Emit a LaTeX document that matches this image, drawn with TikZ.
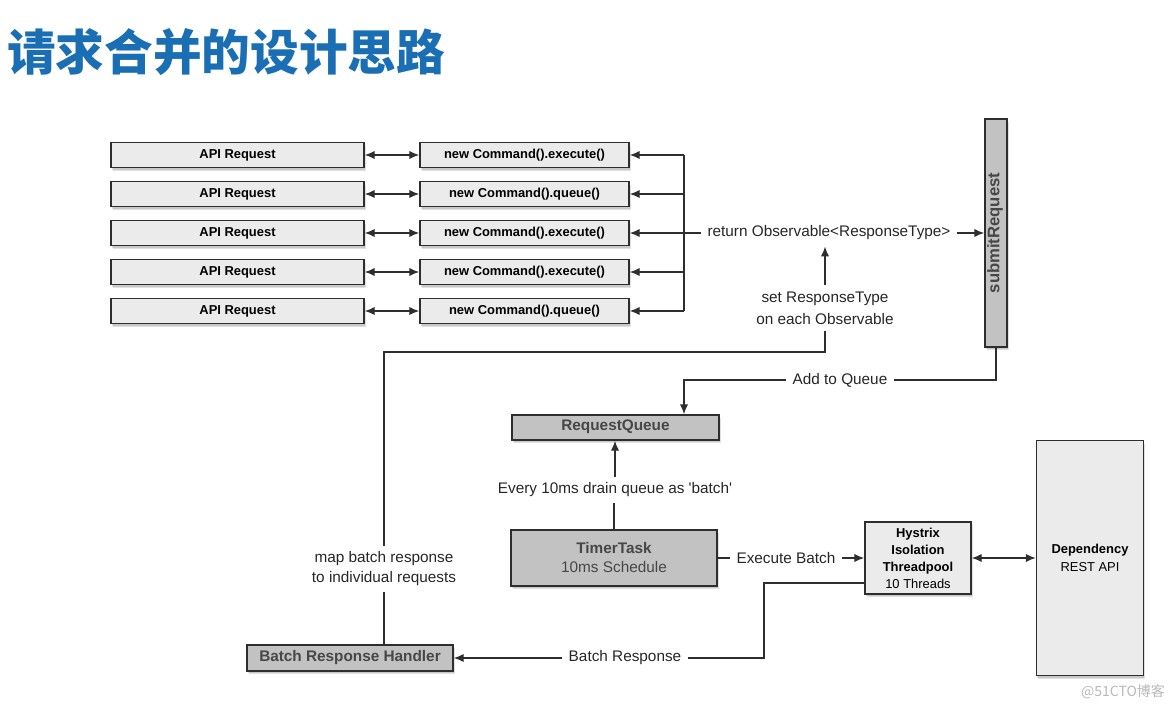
\documentclass[tikz,border=0pt]{standalone}
\usepackage{fontspec}
\setmainfont{Liberation Sans}
\newfontfamily\cjk{Noto Sans CJK SC}
\usetikzlibrary{arrows.meta,shadows,calc}
\definecolor{titleblue}{HTML}{1A6EB4}
\definecolor{boxlight}{HTML}{EBEBEB}
\definecolor{boxdark}{HTML}{C2C2C2}
\definecolor{boxtext}{HTML}{474747}
\definecolor{linecol}{HTML}{2E2E2E}
\begin{document}
\begin{tikzpicture}[x=0.75pt,y=-0.75pt,
  box/.style={draw=linecol, line width=1.05pt, fill=#1, inner sep=0pt, align=center,
    general shadow={shadow xshift=1.2pt, shadow yshift=-2.6pt, fill=black, opacity=0.12},
    drop shadow={shadow xshift=0.6pt, shadow yshift=-1.6pt, opacity=0.25}},
  box/.default=boxlight,
  oneline/.style={text height=0.7em, text depth=0.18em},
  apibox/.style={box, oneline, minimum width=189.75pt, minimum height=18.75pt,
    font=\fontsize{9.7}{11}\selectfont\bfseries},
  cmdbox/.style={box, oneline, minimum width=156.75pt, minimum height=18.75pt,
    font=\fontsize{9.7}{11}\selectfont\bfseries},
  lbl/.style={inner sep=4.5pt, text=black!85, font=\fontsize{11.5}{14}\selectfont},
  conn/.style={draw=linecol, line width=1pt},
  arr/.style={conn, -{Latex[length=7.5pt,width=6.2pt]}},
  dbl/.style={conn, {Latex[length=7.5pt,width=6.2pt]}-{Latex[length=7.5pt,width=6.2pt]}},
]
\useasboundingbox (0,0) rectangle (1175,706);

% title
\node[anchor=west, text=titleblue, inner sep=0pt,
  font=\cjk\bfseries\fontsize{36.5}{40}\selectfont] (title) at (7,52) {请求合并的设计思路};

% request rows
\node[apibox] (a1) at (237.5,155) {API Request};
\node[apibox] (a2) at (237.5,194) {API Request};
\node[apibox] (a3) at (237.5,233) {API Request};
\node[apibox] (a4) at (237.5,272) {API Request};
\node[apibox] (a5) at (237.5,311) {API Request};
\node[cmdbox] (c1) at (524.5,155) {new Command().execute()};
\node[cmdbox] (c2) at (524.5,194) {new Command().queue()};
\node[cmdbox] (c3) at (524.5,233) {new Command().execute()};
\node[cmdbox] (c4) at (524.5,272) {new Command().execute()};
\node[cmdbox] (c5) at (524.5,311) {new Command().queue()};
\foreach \i in {1,...,5}{\draw[dbl] (a\i) -- (c\i);}

% bus
\coordinate (bus) at (684,233);
\draw[conn] (c1.east -| bus) -- (c5.east -| bus);
\foreach \i in {1,...,5}{\draw[arr] (c\i.east -| bus) -- (c\i.east);}

% submitRequest
\node[box=boxdark, oneline, rotate=90, minimum width=171pt, minimum height=16.5pt,
  text=boxtext, font=\fontsize{12.5}{14}\selectfont\bfseries] (submit) at (996,233) {submitRequest};

\node[lbl] (ret) at (829,233) {return Observable<ResponseType>};
\draw[conn] (bus) -- (ret.west);
\draw[arr] (ret.east) -- (submit.north); % left side of the rotated box

\node[lbl, align=center, font=\fontsize{11.5}{16.5}\selectfont] (set) at (825,308) {set ResponseType\\on each Observable};
\draw[arr] (set.north) -- (set.north |- ret.south);

% map batch response path
\node[lbl, align=center, font=\fontsize{11.5}{15}\selectfont] (map) at (384,569) {map batch response\\to individual requests};
\node[box=boxdark, oneline, minimum width=154.5pt, minimum height=19.5pt, text=boxtext,
  font=\fontsize{11.5}{13}\selectfont\bfseries] (brh) at (350,658) {Batch Response Handler};
\coordinate (t1) at (825,352);
\draw[conn] (set.south) -- (t1) -| (map.north);
\draw[conn] (map.south) -- (map.south |- brh.north);

% add to queue
\node[box=boxdark, oneline, minimum width=155.25pt, minimum height=18.75pt, text=boxtext,
  font=\fontsize{11.5}{13}\selectfont\bfseries] (rq) at (615.5,427.5) {RequestQueue};
\node[lbl] (addq) at (840,380) {Add to Queue};
\coordinate (t2) at (684,380);
\draw[conn] (submit.west) |- (addq.east); % bottom side of the rotated box
\draw[arr] (addq.west) -- (t2) -- (t2 |- rq.north);

% timer
\node[box=boxdark, minimum width=154.5pt, minimum height=42pt, text=boxtext,
  font=\fontsize{11.5}{14.25}\selectfont] (timer) at (614,558) {\textbf{TimerTask}\\10ms Schedule};
\node[lbl] (every) at (615,490) {Every 10ms drain queue as \textquotesingle batch\textquotesingle};
\draw[arr] (every.north) -- (every.north |- rq.south);
\draw[conn] (timer.north) -- (timer.north |- every.south);

% hystrix and dependency
\node[box, minimum width=79.5pt, minimum height=54pt,
  font=\fontsize{9.7}{12.75}\selectfont] (hys) at (918,558) {\textbf{Hystrix}\\\textbf{Isolation}\\\textbf{Threadpool}\\10 Threads};
\node[box, minimum width=80.25pt, minimum height=176.25pt,
  font=\fontsize{9.7}{13.5}\selectfont] (dep) at (1090,558) {\textbf{Dependency}\\REST API};
\node[lbl] (exec) at (786,558) {Execute Batch};
\draw[conn] (timer.east) -- (exec.west);
\draw[arr] (exec.east) -- (hys.west);
\draw[dbl] (hys.east) -- (dep.west);

% batch response
\node[lbl] (br) at (625,658) {Batch Response};
\coordinate (t3) at (764,583);
\coordinate (t4) at (764,658);
\draw[conn] (t3 -| hys.west) -- (t3) -- (t4) -- (br.east);
\draw[arr] (br.west) -- (brh.east);

% watermark
\node[text=black!28, inner sep=0pt, font=\cjk\fontsize{10.5}{12}\selectfont] (wm) at (1123,692) {@51CTO博客};
\end{tikzpicture}
\end{document}
